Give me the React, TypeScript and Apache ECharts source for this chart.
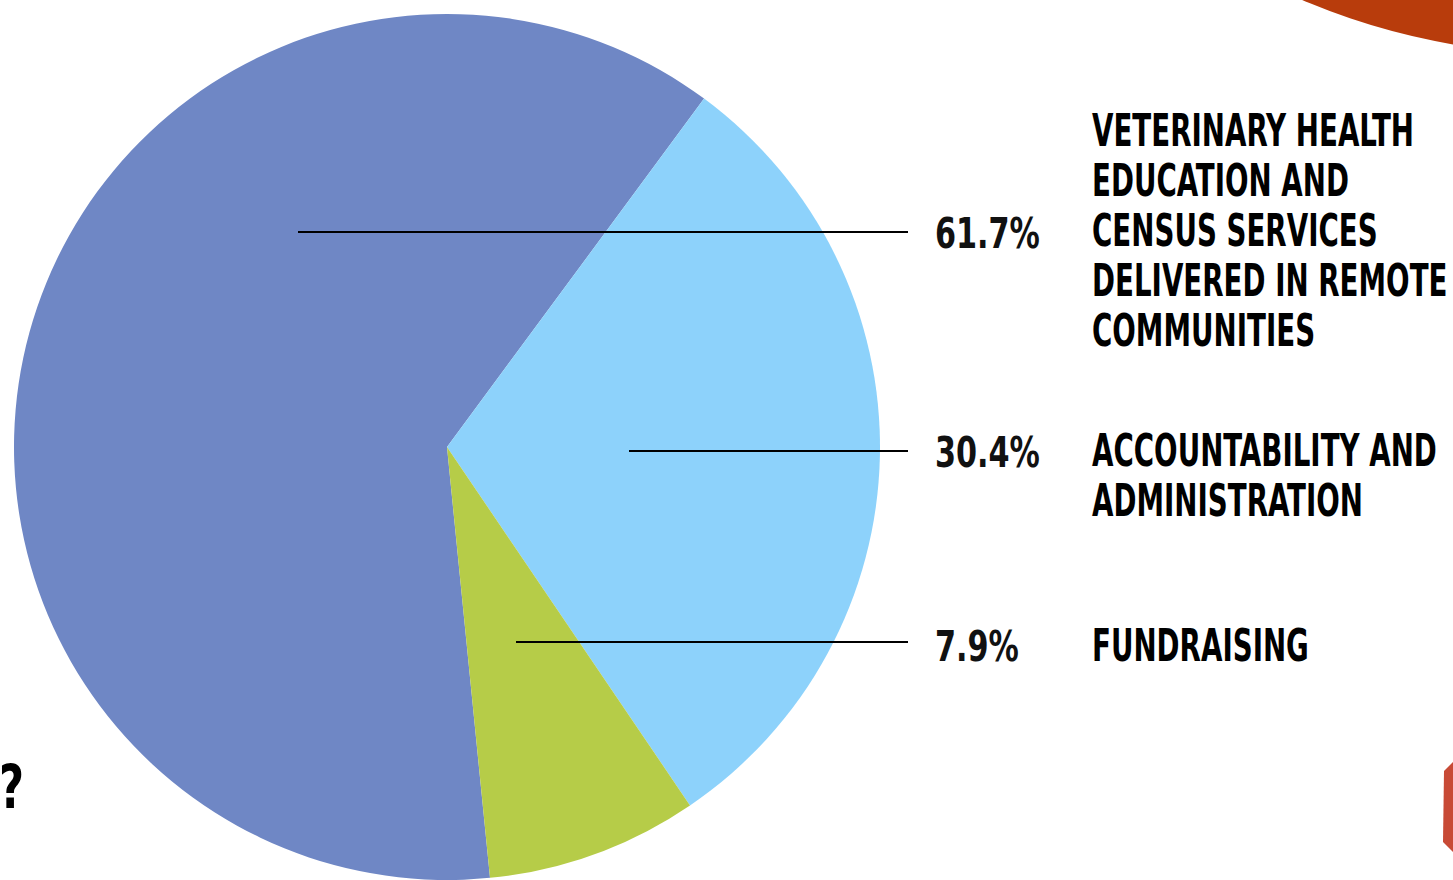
import React, { useEffect, useRef } from "react";
import * as echarts from "echarts";

const categories = [
  "VETERINARY HEALTH\nEDUCATION AND\nCENSUS SERVICES\nDELIVERED IN REMOTE\nCOMMUNITIES",
  "ACCOUNTABILITY AND\nADMINISTRATION",
  "FUNDRAISING",
];
const values = [61.7, 30.4, 7.9];
const colors = ["#6F87C5", "#8DD2FB", "#B6CC48"];
const lineY = [232, 451, 642];
const lineStartX = [298, 629, 516];
const percentY = [234, 453, 647];
const categoryTop = [106, 426, 621];

const FONT = "'DejaVu Sans Condensed', 'DejaVu Sans', sans-serif";

export default function App() {
  const ref = useRef<HTMLDivElement>(null);
  useEffect(() => {
    const chart = echarts.init(ref.current!, null, { renderer: "svg" });
    chart.setOption({
      animation: false,
      backgroundColor: "#ffffff",
      series: [
        {
          type: "pie",
          center: [447, 447],
          radius: 433,
          startAngle: -84.3,
          clockwise: true,
          silent: true,
          z: 1,
          label: { show: false },
          labelLine: { show: false },
          data: values.map((v, i) => ({
            value: v,
            name: categories[i],
            itemStyle: { color: colors[i] },
          })),
        },
      ],
      graphic: [
        {
          type: "circle",
          z: 10,
          shape: { cx: 1566, cy: -618, r: 672 },
          style: { fill: "#B83C0C" },
          silent: true,
        },
        {
          type: "polygon",
          z: 10,
          shape: { points: [[1453, 762], [1444, 771], [1443, 842], [1453, 852]] },
          style: { fill: "#C84A36" },
          silent: true,
        },
        {
          type: "text",
          z: 10,
          x: -1,
          y: 758,
          scaleX: 0.8,
          style: {
            text: "?",
            fontFamily: FONT,
            fontWeight: "bold",
            fontSize: 60,
            fill: "#000",
          },
          silent: true,
        },
        ...values.map((v, i) => ({
          type: "line",
          z: 10,
          shape: { x1: lineStartX[i], y1: lineY[i], x2: 908, y2: lineY[i] },
          style: { stroke: "#000", lineWidth: 2 },
          silent: true,
        })),
        ...values.map((v, i) => ({
          type: "text",
          z: 10,
          x: 935,
          y: percentY[i],
          scaleX: 0.8,
          style: {
            text: v.toFixed(1) + "%",
            fontFamily: FONT,
            fontWeight: "bold",
            fontSize: 42,
            fill: "#111",
            verticalAlign: "middle",
          },
          silent: true,
        })),
        ...categories.map((c, i) => ({
          type: "text",
          z: 10,
          x: 1092,
          y: categoryTop[i],
          scaleX: 0.7,
          style: {
            text: c,
            fontFamily: FONT,
            fontWeight: "bold",
            fontSize: 44,
            lineHeight: 50,
            fill: "#000",
          },
          silent: true,
        })),
      ],
    });
    return () => chart.dispose();
  }, []);
  return <div ref={ref} style={{ width: 1453, height: 880, position: "absolute", left: 0, top: 0 }} />;
}
